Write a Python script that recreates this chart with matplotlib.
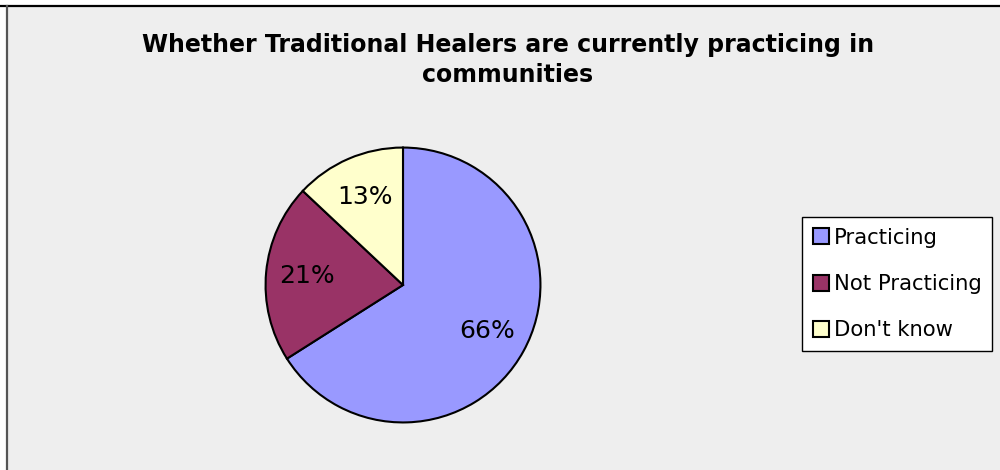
import matplotlib
matplotlib.use("Agg")
import matplotlib.pyplot as plt
from matplotlib.patches import Rectangle, Patch
from matplotlib.lines import Line2D

categories = ["Practicing", "Not Practicing", "Don't know"]
values = [66, 21, 13]
colors = ["#9999FF", "#993366", "#FFFFCC"]
title = "Whether Traditional Healers are currently practicing in\ncommunities"

W, H = 1000, 470
fig = plt.figure(figsize=(W / 100, H / 100), dpi=100, facecolor="white")

def fx(px):
    return px / W

def fy(py):
    return 1 - py / H

# chart background
fig.patches.append(Rectangle((fx(7), 0), 1 - fx(7), fy(6), transform=fig.transFigure,
                             facecolor="#EEEEEE", edgecolor="none", zorder=-5))
fig.lines.append(Line2D([0, 1], [fy(6), fy(6)], transform=fig.transFigure,
                        color="black", lw=1.6, zorder=-4))
fig.lines.append(Line2D([fx(7), fx(7)], [0, fy(6)], transform=fig.transFigure,
                        color="#555555", lw=1.6, zorder=-4))

fig.text(fx(508), fy(33), title, ha="center", va="top", fontsize=17,
         fontweight="bold", family="DejaVu Sans", linespacing=1.3, zorder=5)

cx, cy, r = 403, 285, 137.5
ax = fig.add_axes([fx(cx - r - 2), fy(cy + r + 2), (2 * r + 4) / W, (2 * r + 4) / H])
ax.set_axis_off()
ax.set_zorder(3)
wedges, texts, autotexts = ax.pie(
    values, colors=colors, startangle=90, counterclock=False,
    autopct=lambda p: f"{p:.0f}%", pctdistance=0.70,
    wedgeprops=dict(edgecolor="black", linewidth=1.5),
    textprops=dict(fontsize=18, color="black"))
ax.set_xlim(-1.015, 1.015)
ax.set_ylim(-1.015, 1.015)

handles = [Patch(facecolor=c, edgecolor="black", linewidth=1.5) for c in colors]
leg = fig.legend(handles, categories, loc="upper left",
                 bbox_to_anchor=(fx(802), fy(217)), fontsize=15.2,
                 frameon=True, fancybox=False, edgecolor="black", framealpha=1,
                 handlelength=0.8, handleheight=0.8, handletextpad=0.2,
                 labelspacing=1.25, borderpad=0.5, borderaxespad=0)
leg.get_frame().set_linewidth(1.0)
leg.get_frame().set_facecolor("white")
leg.set_zorder(6)

fig.savefig("out.png", dpi=100, facecolor="white")
